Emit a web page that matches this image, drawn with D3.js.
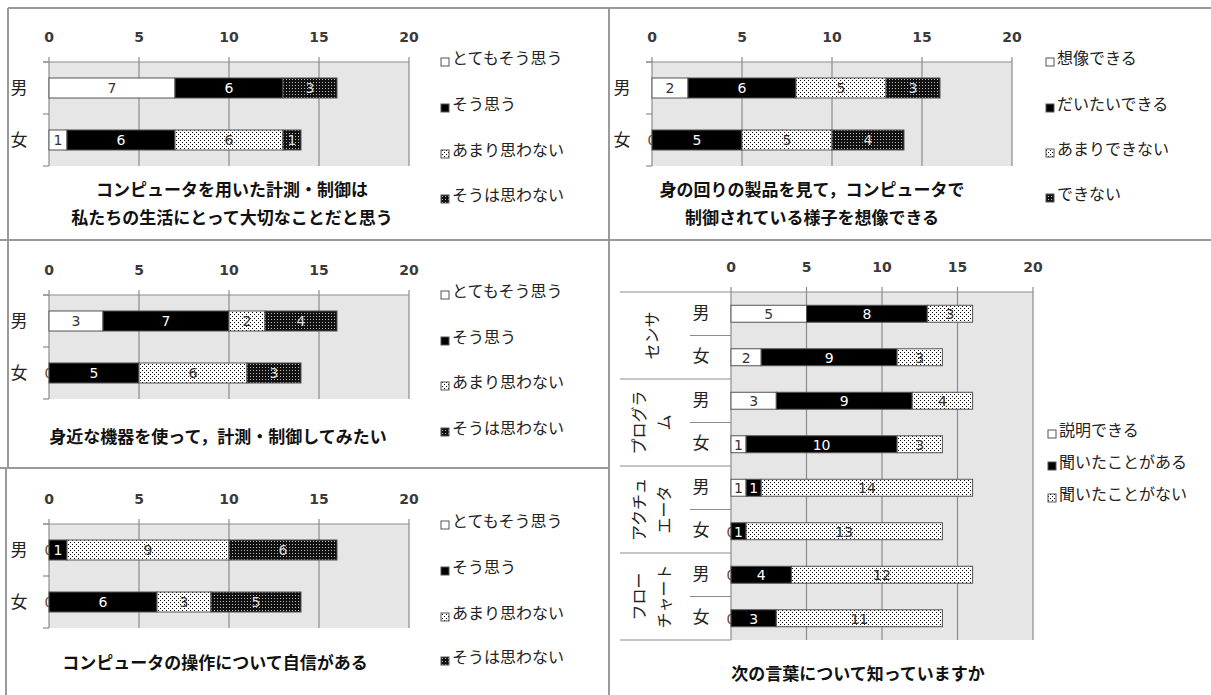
<!DOCTYPE html>
<html><head><meta charset="utf-8">
<script src="https://cdn.jsdelivr.net/npm/d3@7"></script>
<style>
html,body{margin:0;padding:0;background:#fff;}
svg{display:block;}
text{font-family:"Noto Sans CJK JP","Noto Sans",sans-serif;}
.num{font-family:"DejaVu Sans","Noto Sans",sans-serif;}
</style>
</head><body>
<svg id="chart" width="1211" height="695"></svg>
<script>
// ---- data ----
const sexes = ['男', '女'];
const tickValues = [0, 5, 10, 15, 20];

const legendAgree = ['とてもそう思う', 'そう思う', 'あまり思わない', 'そうは思わない'];
const legendImagine = ['想像できる', 'だいたいできる', 'あまりできない', 'できない'];
const legendKnow = ['説明できる', '聞いたことがある', '聞いたことがない'];

const title1 = ['コンピュータを用いた計測・制御は', '私たちの生活にとって大切なことだと思う'];
const title2 = ['身の回りの製品を見て，コンピュータで', '制御されている様子を想像できる'];
const title3 = ['身近な機器を使って，計測・制御してみたい'];
const title4 = ['コンピュータの操作について自信がある'];
const title5 = ['次の言葉について知っていますか'];

const q1Male = [7, 6, 0, 3];
const q1Female = [1, 6, 6, 1];
const q2Male = [2, 6, 5, 3];
const q2Female = [0, 5, 5, 4];
const q3Male = [3, 7, 2, 4];
const q3Female = [0, 5, 6, 3];
const q4Male = [0, 1, 9, 6];
const q4Female = [0, 6, 3, 5];

const termGroupLines = [['センサ'], ['プログラ', 'ム'], ['アクチュ', 'エータ'], ['フロー', 'チャート']];
const sensorMale = [5, 8, 3];
const sensorFemale = [2, 9, 3];
const programMale = [3, 9, 4];
const programFemale = [1, 10, 3];
const actuatorMale = [1, 1, 14];
const actuatorFemale = [0, 1, 13];
const flowMale = [0, 4, 12];
const flowFemale = [0, 3, 11];

// ---- drawing ----
const svg = d3.select('#chart');
const defs = svg.append('defs');
const dots = defs.append('pattern').attr('id', 'dots').attr('patternUnits', 'userSpaceOnUse')
  .attr('width', 4).attr('height', 4);
dots.append('rect').attr('width', 4).attr('height', 4).attr('fill', '#fff');
dots.append('rect').attr('x', 0).attr('y', 0).attr('width', 1).attr('height', 1).attr('fill', '#000');
dots.append('rect').attr('x', 2).attr('y', 2).attr('width', 1).attr('height', 1).attr('fill', '#000');
const dense = defs.append('pattern').attr('id', 'dense').attr('patternUnits', 'userSpaceOnUse')
  .attr('width', 3).attr('height', 3);
dense.append('rect').attr('width', 3).attr('height', 3).attr('fill', '#111');
dense.append('rect').attr('x', 1).attr('y', 1).attr('width', 1).attr('height', 1).attr('fill', '#bbb');

const fills = ['#fff', '#000', 'url(#dots)', 'url(#dense)'];
const labelColors = ['#333', '#fff', '#333', '#ddd'];
const lineColor = '#8c8c8c';

function drawAxes(g, x, top, bottom) {
  g.append('rect').attr('x', x(0)).attr('y', top).attr('width', x(20) - x(0)).attr('height', bottom - top)
    .attr('fill', '#e6e6e6');
  tickValues.forEach(t => {
    g.append('line').attr('x1', x(t)).attr('x2', x(t)).attr('y1', top - 5).attr('y2', bottom)
      .attr('stroke', lineColor).attr('stroke-width', 1.2);
    g.append('text').attr('class', 'num').attr('x', x(t)).attr('y', top - 25).attr('dy', '0.35em')
      .attr('text-anchor', 'middle').attr('font-size', 14).attr('font-weight', 'bold')
      .attr('fill', '#3a3a3a').text(t);
  });
}

function drawBars(g, x, y, rows, keys) {
  const nSeries = rows[0].length;
  for (let s = 0; s < nSeries; s++) {
    rows.forEach((vals, i) => {
      const start = d3.sum(vals.slice(0, s));
      const v = vals[s];
      if (v > 0) {
        g.append('rect').attr('x', x(start)).attr('y', y(keys[i])).attr('width', x(start + v) - x(start))
          .attr('height', y.bandwidth()).attr('fill', fills[s]).attr('stroke', '#555').attr('stroke-width', 1);
      }
    });
    rows.forEach((vals, i) => {
      const start = d3.sum(vals.slice(0, s));
      const v = vals[s];
      const col = v === 0 ? (start === 0 ? '#6a4a2a' : '#000') : labelColors[s];
      g.append('text').attr('class', 'num').attr('x', x(start + v / 2)).attr('y', y(keys[i]) + y.bandwidth() / 2)
        .attr('dy', '0.38em').attr('text-anchor', 'middle').attr('font-size', 14)
        .attr('fill', col).text(v);
    });
  }
}

function drawLegend(items, lx, ys) {
  items.forEach((name, i) => {
    svg.append('rect').attr('x', lx).attr('y', ys[i]).attr('width', 8).attr('height', 8)
      .attr('fill', fills[i]).attr('stroke', '#555').attr('stroke-width', 1);
    svg.append('text').attr('x', lx + 11).attr('y', ys[i] + 1).attr('dy', '0.3em')
      .attr('font-size', 16).attr('fill', '#222').text(name);
  });
}

function drawTitle(lines, cx, ys) {
  lines.forEach((t, i) => {
    svg.append('text').attr('x', cx).attr('y', ys[i]).attr('dy', '0.35em').attr('text-anchor', 'middle')
      .attr('font-size', 17).attr('font-weight', 'bold').attr('fill', '#111').text(t);
  });
}

function smallPanel(cfg) {
  const g = svg.append('g');
  const x = d3.scaleLinear().domain([0, 20]).range([cfg.x0, cfg.x0 + 360]);
  const top = cfg.top, bottom = cfg.top + 104;
  const y = d3.scaleBand().domain(sexes).range([top, bottom]).paddingInner(0.615).paddingOuter(0.3075);
  drawAxes(g, x, top, bottom);
  g.append('line').attr('x1', x(0) - 6).attr('x2', x(20)).attr('y1', top).attr('y2', top).attr('stroke', lineColor).attr('stroke-width', 1.2);
  [top, top + 52, bottom].forEach(yy => {
    g.append('line').attr('x1', x(0) - 6).attr('x2', x(0)).attr('y1', yy).attr('y2', yy).attr('stroke', lineColor).attr('stroke-width', 1.2);
  });
  sexes.forEach(s => {
    g.append('text').attr('x', cfg.x0 - 30).attr('y', y(s) + y.bandwidth() / 2).attr('dy', '0.35em')
      .attr('text-anchor', 'middle').attr('font-size', 17).attr('fill', '#222').text(s);
  });
  drawBars(g, x, y, cfg.rows, sexes);
  drawLegend(cfg.legend, cfg.lx, cfg.ly);
  drawTitle(cfg.title, cfg.tx, cfg.ty);
}

smallPanel({ x0: 49, top: 62, rows: [q1Male, q1Female], legend: legendAgree, lx: 441, ly: [58, 104, 150, 195], title: title1, tx: 232, ty: [190, 218] });
smallPanel({ x0: 652, top: 62, rows: [q2Male, q2Female], legend: legendImagine, lx: 1046, ly: [58, 104, 149, 194], title: title2, tx: 812, ty: [190, 218] });
smallPanel({ x0: 49, top: 295, rows: [q3Male, q3Female], legend: legendAgree, lx: 441, ly: [291, 337, 382, 428], title: title3, tx: 218, ty: [437] });
smallPanel({ x0: 49, top: 524, rows: [q4Male, q4Female], legend: legendAgree, lx: 441, ly: [521, 567, 613, 657], title: title4, tx: 215, ty: [663] });

// ---- right panel ----
(function () {
  const g = svg.append('g');
  const x = d3.scaleLinear().domain([0, 20]).range([731, 1033]);
  const top = 292, bottom = 640;
  const rowKeys = d3.range(8);
  const y = d3.scaleBand().domain(rowKeys).range([top, bottom]).paddingInner(0.61).paddingOuter(0.305);
  drawAxes(g, x, top, bottom);
  g.append('line').attr('x1', 620).attr('x2', x(20)).attr('y1', top).attr('y2', top).attr('stroke', lineColor).attr('stroke-width', 1.2);
  const step = y.step();
  for (let i = 1; i <= 8; i++) {
    const yy = top + i * step;
    const isGroup = i % 2 === 0;
    g.append('line').attr('x1', isGroup ? 620 : 690).attr('x2', x(0)).attr('y1', yy).attr('y2', yy)
      .attr('stroke', lineColor).attr('stroke-width', 1.2);
  }
  rowKeys.forEach(k => {
    g.append('text').attr('x', 701).attr('y', y(k) + y.bandwidth() / 2 - 1).attr('dy', '0.35em')
      .attr('text-anchor', 'middle').attr('font-size', 17).attr('fill', '#222').text(sexes[k % 2]);
  });
  termGroupLines.forEach((lines, gi) => {
    const cy = top + (gi * 2 + 1) * step;
    const cx = 652;
    const tg = g.append('g').attr('transform', `translate(${cx},${cy}) rotate(-90)`);
    lines.forEach((t, li) => {
      tg.append('text').attr('x', 0).attr('y', (li - (lines.length - 1) / 2) * 25).attr('dy', '0.35em')
        .attr('text-anchor', 'middle').attr('font-size', 16).attr('fill', '#222').text(t);
    });
  });
  const rows = [sensorMale, sensorFemale, programMale, programFemale, actuatorMale, actuatorFemale, flowMale, flowFemale];
  drawBars(g, x, y, rows, rowKeys);
  drawLegend(legendKnow, 1048, [430, 462, 494]);
  drawTitle(title5, 858, [674]);
})();

// ---- panel borders ----
const borders = [
  [8, 8, 1211, 8], [8, 8, 8, 240], [0, 240, 1211, 240], [8, 240, 8, 468],
  [0, 468, 609, 468], [6, 468, 6, 695], [609, 8, 609, 695]
];
borders.forEach(b => {
  svg.append('line').attr('x1', b[0]).attr('y1', b[1]).attr('x2', b[2]).attr('y2', b[3])
    .attr('stroke', '#9a9a9a').attr('stroke-width', 2);
});
</script>
</body></html>
